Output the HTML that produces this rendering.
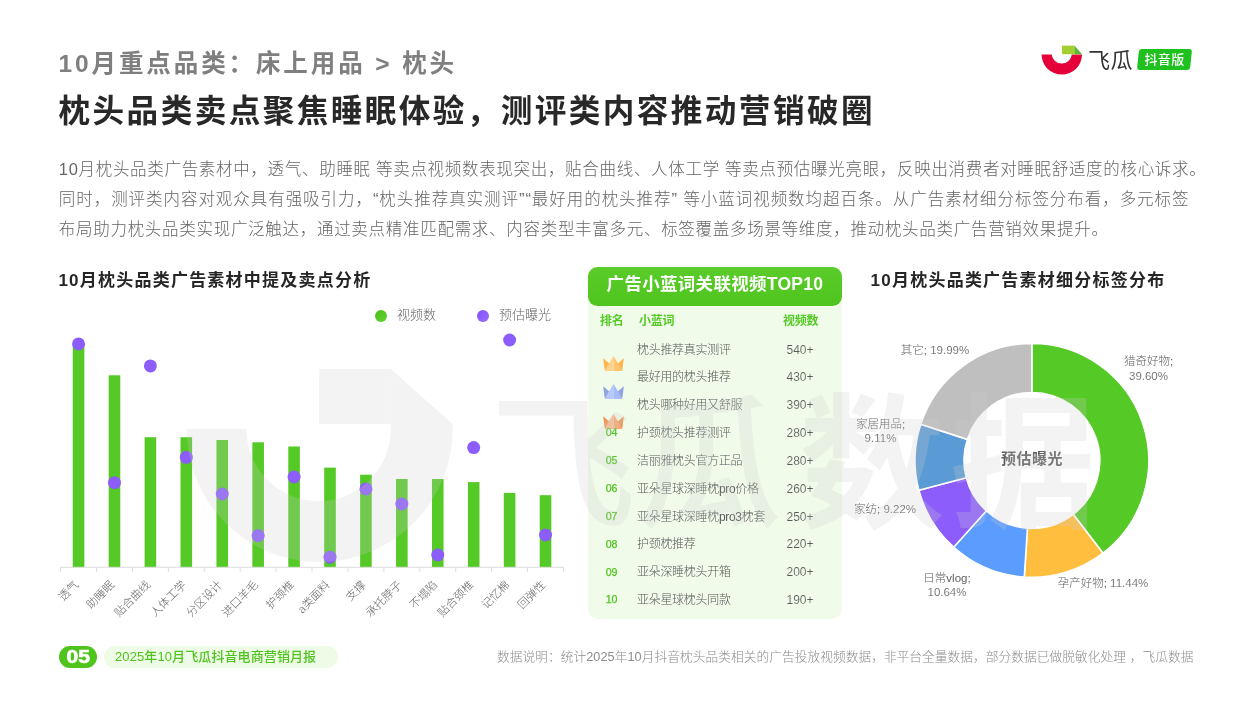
<!DOCTYPE html><html lang="zh-CN"><head><meta charset="utf-8"><title>10月重点品类：床上用品 &gt; 枕头</title><style>
*{margin:0;padding:0;box-sizing:border-box}
html,body{width:1250px;height:703px;overflow:hidden;background:#fff}
body{font-family:"Liberation Sans", "Noto Sans CJK SC", sans-serif;position:relative;color:#333}
.abs{position:absolute;white-space:nowrap}
#h1{left:58.5px;top:44.5px;font-size:24.5px;line-height:38px;font-weight:700;color:#7f7f7f;letter-spacing:2.9px}
#h2{left:58.6px;top:87.6px;font-size:31.6px;line-height:46px;font-weight:700;color:#282828;letter-spacing:2.42px}
#para{position:absolute;left:58.8px;top:154px;width:1160px;font-size:16.5px;line-height:30px;font-weight:300;color:#666;letter-spacing:1.35px}
#para div{white-space:nowrap;height:30px}
.ctitle{font-size:17px;line-height:24px;font-weight:700;color:#262626;letter-spacing:1.23px}
#t1{left:58.4px;top:269.2px}
#t3{left:870.6px;top:269.2px}
.leg{font-size:13px;line-height:18px;color:#666;font-weight:300}
.dot{position:absolute;border-radius:50%}
/* table */
#panel{position:absolute;left:588.3px;top:286px;width:253.7px;height:333px;background:#f1fbea;border-radius:0 0 10.5px 10.5px}
#phead{position:absolute;left:588px;top:267.2px;width:254px;height:38.8px;border-radius:9.5px;background:linear-gradient(180deg,#5bcc2b,#4fc41d);color:#fff;font-weight:700;font-size:17.5px;line-height:35px;text-align:center;letter-spacing:0.3px}
.th{font-size:12px;line-height:16px;font-weight:700;color:#55c925;letter-spacing:-0.2px}
.td{font-size:12px;line-height:16px;color:#595959;font-weight:300;letter-spacing:-0.3px}
.rk{font-size:10.6px;line-height:16px;color:#4fc41d;font-weight:500;width:30px;text-align:center;-webkit-text-stroke:0.25px #4fc41d}
.cnt{font-size:12px;line-height:16px;color:#595959;font-weight:300;width:50px;text-align:center;-webkit-text-stroke:0.12px #f1fbea}
/* footer */
#pg{left:58.5px;top:646px;width:38.5px;height:21.5px;border-radius:11px;background:#4fc41d}
#pgt{left:58.5px;top:646px;width:38.5px;height:21.5px;color:#fff;font-weight:700;font-size:17.5px;line-height:22px;text-align:center;transform:scaleX(1.2);-webkit-text-stroke:0.6px #fff}
#rep{left:103.5px;top:646px;width:234.5px;height:21.5px;border-radius:11px;background:#eefbe6;color:#4fc41d;font-weight:500;font-size:13px;line-height:21px;padding-left:11.5px;letter-spacing:0.1px}
#note{left:497px;top:648px;font-size:12.7px;line-height:18px;color:#8c8c8c;font-weight:300;letter-spacing:0.06px}
/* logo */
#lgtxt{left:1088px;top:46.6px;font-size:22px;line-height:28px;color:#333;font-weight:400;letter-spacing:0.4px}
#badge{left:1138px;top:49px;width:53px;height:21px;background:#1fc11f;border-radius:3px;transform:skewX(-6deg)}
#badgetxt{left:1138px;top:49px;width:53px;height:21px;color:#fff;font-size:13px;font-weight:500;line-height:21px;text-align:center;letter-spacing:0.4px}
#stage{position:absolute;left:0;top:0;width:1250px;height:703px;overflow:hidden;will-change:transform}
#wm{position:absolute;left:0;top:0;width:1250px;height:703px;pointer-events:none}
</style></head><body><div id="stage">
<div class="abs" id="h1">10月重点品类：床上用品 &gt; 枕头</div>
<div class="abs" id="h2">枕头品类卖点聚焦睡眠体验，测评类内容推动营销破圈</div>
<svg class="abs" style="left:1036px;top:40px" width="52" height="40" viewBox="1036 40 52 40">
<path d="M1041.6 54.4 A20.2 20.2 0 0 0 1082 54.4 L1071.8 54.4 A10.1 10.1 0 0 1 1051.7 54.4 Z" fill="#e60039"/>
<rect x="1062" y="45.6" width="12.4" height="8.6" fill="#a4cf30"/>
<path d="M1074.4 45.6 L1082 54.2 L1074.4 54.2 Z" fill="#5cb531"/>
</svg>
<div class="abs" id="lgtxt">飞瓜</div>
<div class="abs" id="badge"></div><div class="abs" id="badgetxt">抖音版</div>
<div id="para"><div style="letter-spacing:0.69px">10月枕头品类广告素材中，透气、助睡眠 等卖点视频数表现突出，贴合曲线、人体工学 等卖点预估曝光亮眼，反映出消费者对睡眠舒适度的核心诉求。</div><div style="letter-spacing:0.95px">同时，测评类内容对观众具有强吸引力，“枕头推荐真实测评”“最好用的枕头推荐” 等小蓝词视频数均超百条。从广告素材细分标签分布看，多元标签</div><div style="letter-spacing:0.71px">布局助力枕头品类实现广泛触达，通过卖点精准匹配需求、内容类型丰富多元、标签覆盖多场景等维度，推动枕头品类广告营销效果提升。</div></div>
<div class="abs ctitle" id="t1">10月枕头品类广告素材中提及卖点分析</div>
<div class="dot" style="left:374.5px;top:309.5px;width:12px;height:12px;background:linear-gradient(135deg,#4bc118,#62d032)"></div>
<div class="abs leg" style="left:397px;top:306px">视频数</div>
<div class="dot" style="left:477px;top:309.5px;width:12px;height:12px;background:linear-gradient(135deg,#8150f7,#9a6dff)"></div>
<div class="abs leg" style="left:499px;top:306px">预估曝光</div>
<svg class="abs" style="left:0;top:330px" width="600" height="310" viewBox="0 330 600 310"><rect x="72.76" y="344" width="11.6" height="223.30" fill="#55c925"/><rect x="108.68" y="375.3" width="11.6" height="192.00" fill="#55c925"/><rect x="144.60" y="437.2" width="11.6" height="130.10" fill="#55c925"/><rect x="180.52" y="437.2" width="11.6" height="130.10" fill="#55c925"/><rect x="216.44" y="440" width="11.6" height="127.30" fill="#55c925"/><rect x="252.36" y="442.3" width="11.6" height="125.00" fill="#55c925"/><rect x="288.28" y="446.5" width="11.6" height="120.80" fill="#55c925"/><rect x="324.20" y="467.6" width="11.6" height="99.70" fill="#55c925"/><rect x="360.12" y="474.7" width="11.6" height="92.60" fill="#55c925"/><rect x="396.04" y="479" width="11.6" height="88.30" fill="#55c925"/><rect x="431.96" y="479" width="11.6" height="88.30" fill="#55c925"/><rect x="467.88" y="482.1" width="11.6" height="85.20" fill="#55c925"/><rect x="503.80" y="492.9" width="11.6" height="74.40" fill="#55c925"/><rect x="539.72" y="495.2" width="11.6" height="72.10" fill="#55c925"/><path d="M60.6 567.3 H563.48" stroke="#dcdcdc" stroke-width="1" fill="none"/><path d="M60.60 567.3 v4.5" stroke="#dcdcdc" stroke-width="1" fill="none"/><path d="M96.52 567.3 v4.5" stroke="#dcdcdc" stroke-width="1" fill="none"/><path d="M132.44 567.3 v4.5" stroke="#dcdcdc" stroke-width="1" fill="none"/><path d="M168.36 567.3 v4.5" stroke="#dcdcdc" stroke-width="1" fill="none"/><path d="M204.28 567.3 v4.5" stroke="#dcdcdc" stroke-width="1" fill="none"/><path d="M240.20 567.3 v4.5" stroke="#dcdcdc" stroke-width="1" fill="none"/><path d="M276.12 567.3 v4.5" stroke="#dcdcdc" stroke-width="1" fill="none"/><path d="M312.04 567.3 v4.5" stroke="#dcdcdc" stroke-width="1" fill="none"/><path d="M347.96 567.3 v4.5" stroke="#dcdcdc" stroke-width="1" fill="none"/><path d="M383.88 567.3 v4.5" stroke="#dcdcdc" stroke-width="1" fill="none"/><path d="M419.80 567.3 v4.5" stroke="#dcdcdc" stroke-width="1" fill="none"/><path d="M455.72 567.3 v4.5" stroke="#dcdcdc" stroke-width="1" fill="none"/><path d="M491.64 567.3 v4.5" stroke="#dcdcdc" stroke-width="1" fill="none"/><path d="M527.56 567.3 v4.5" stroke="#dcdcdc" stroke-width="1" fill="none"/><path d="M563.48 567.3 v4.5" stroke="#dcdcdc" stroke-width="1" fill="none"/><circle cx="78.56" cy="343.9" r="6.5" fill="#8c5dfb"/><circle cx="114.48" cy="482.7" r="6.5" fill="#8c5dfb"/><circle cx="150.40" cy="365.9" r="6.5" fill="#8c5dfb"/><circle cx="186.32" cy="457.3" r="6.5" fill="#8c5dfb"/><circle cx="222.24" cy="494" r="6.5" fill="#8c5dfb"/><circle cx="258.16" cy="535.6" r="6.5" fill="#8c5dfb"/><circle cx="294.08" cy="477" r="6.5" fill="#8c5dfb"/><circle cx="330.00" cy="557.2" r="6.5" fill="#8c5dfb"/><circle cx="365.92" cy="488.9" r="6.5" fill="#8c5dfb"/><circle cx="401.84" cy="504" r="6.5" fill="#8c5dfb"/><circle cx="437.76" cy="555" r="6.5" fill="#8c5dfb"/><circle cx="473.68" cy="447.6" r="6.5" fill="#8c5dfb"/><circle cx="509.60" cy="340" r="6.5" fill="#8c5dfb"/><circle cx="545.52" cy="535" r="6.5" fill="#8c5dfb"/><text transform="translate(77.06 583.5) rotate(-45)" text-anchor="end" dominant-baseline="middle" font-size="11.3" font-weight="300" fill="#666">透气</text><text transform="translate(112.98 583.5) rotate(-45)" text-anchor="end" dominant-baseline="middle" font-size="11.3" font-weight="300" fill="#666">助睡眠</text><text transform="translate(148.90 583.5) rotate(-45)" text-anchor="end" dominant-baseline="middle" font-size="11.3" font-weight="300" fill="#666">贴合曲线</text><text transform="translate(184.82 583.5) rotate(-45)" text-anchor="end" dominant-baseline="middle" font-size="11.3" font-weight="300" fill="#666">人体工学</text><text transform="translate(220.74 583.5) rotate(-45)" text-anchor="end" dominant-baseline="middle" font-size="11.3" font-weight="300" fill="#666">分区设计</text><text transform="translate(256.66 583.5) rotate(-45)" text-anchor="end" dominant-baseline="middle" font-size="11.3" font-weight="300" fill="#666">进口羊毛</text><text transform="translate(292.58 583.5) rotate(-45)" text-anchor="end" dominant-baseline="middle" font-size="11.3" font-weight="300" fill="#666">护颈椎</text><text transform="translate(328.50 583.5) rotate(-45)" text-anchor="end" dominant-baseline="middle" font-size="11.3" font-weight="300" fill="#666"><tspan stroke="#fff" stroke-width="0.25">a</tspan>类面料</text><text transform="translate(364.42 583.5) rotate(-45)" text-anchor="end" dominant-baseline="middle" font-size="11.3" font-weight="300" fill="#666">支撑</text><text transform="translate(400.34 583.5) rotate(-45)" text-anchor="end" dominant-baseline="middle" font-size="11.3" font-weight="300" fill="#666">承托脖子</text><text transform="translate(436.26 583.5) rotate(-45)" text-anchor="end" dominant-baseline="middle" font-size="11.3" font-weight="300" fill="#666">不塌陷</text><text transform="translate(472.18 583.5) rotate(-45)" text-anchor="end" dominant-baseline="middle" font-size="11.3" font-weight="300" fill="#666">贴合颈椎</text><text transform="translate(508.10 583.5) rotate(-45)" text-anchor="end" dominant-baseline="middle" font-size="11.3" font-weight="300" fill="#666">记忆棉</text><text transform="translate(544.02 583.5) rotate(-45)" text-anchor="end" dominant-baseline="middle" font-size="11.3" font-weight="300" fill="#666">回弹性</text></svg>
<div id="panel"></div><div id="phead">广告小蓝词关联视频TOP10</div>
<div class="abs th" style="left:600px;top:313px">排名</div>
<div class="abs th" style="left:639px;top:313px">小蓝词</div>
<div class="abs th" style="left:783px;top:313px">视频数</div>
<svg class="abs" style="left:602.9px;top:355.8px" width="21" height="15" viewBox="0 0 21 15">
<path d="M0.2 2.7 Q0 2.3 0.5 2.6 L6.2 7.5 L3 15 Q1.9 15 1.7 14 Z" fill="#ffb54d"/>
<path d="M20.8 2.7 Q21 2.3 20.5 2.6 L14.8 7.5 L18 15 Q19.1 15 19.3 14 Z" fill="#ffb54d"/>
<path d="M10.5 0 L10.5 15 L2.6 15 Q1.7 15 2 14.2 L10.1 0.4 Q10.3 0 10.5 0 Z" fill="#ffd28c"/>
<path d="M10.5 0 L10.5 15 L18.4 15 Q19.3 15 19 14.2 L10.9 0.4 Q10.7 0 10.5 0 Z" fill="#ffc56f"/>
</svg>
<svg class="abs" style="left:602.9px;top:384.4px" width="21" height="15" viewBox="0 0 21 15">
<path d="M0.2 2.7 Q0 2.3 0.5 2.6 L6.2 7.5 L3 15 Q1.9 15 1.7 14 Z" fill="#8ea4e2"/>
<path d="M20.8 2.7 Q21 2.3 20.5 2.6 L14.8 7.5 L18 15 Q19.1 15 19.3 14 Z" fill="#8ea4e2"/>
<path d="M10.5 0 L10.5 15 L2.6 15 Q1.7 15 2 14.2 L10.1 0.4 Q10.3 0 10.5 0 Z" fill="#b7c8fb"/>
<path d="M10.5 0 L10.5 15 L18.4 15 Q19.3 15 19 14.2 L10.9 0.4 Q10.7 0 10.5 0 Z" fill="#a7bbf6"/>
</svg>
<svg class="abs" style="left:602.9px;top:413.5px" width="21" height="15" viewBox="0 0 21 15">
<path d="M0.2 2.7 Q0 2.3 0.5 2.6 L6.2 7.5 L3 15 Q1.9 15 1.7 14 Z" fill="#ef9650"/>
<path d="M20.8 2.7 Q21 2.3 20.5 2.6 L14.8 7.5 L18 15 Q19.1 15 19.3 14 Z" fill="#ef9650"/>
<path d="M10.5 0 L10.5 15 L2.6 15 Q1.7 15 2 14.2 L10.1 0.4 Q10.3 0 10.5 0 Z" fill="#fbbb90"/>
<path d="M10.5 0 L10.5 15 L18.4 15 Q19.3 15 19 14.2 L10.9 0.4 Q10.7 0 10.5 0 Z" fill="#f8a874"/>
</svg>
<div class="abs td" style="left:637px;top:341.6px">枕头推荐真实测评</div>
<div class="abs cnt" style="left:775px;top:341.6px">540+</div>
<div class="abs td" style="left:637px;top:369.4px">最好用的枕头推荐</div>
<div class="abs cnt" style="left:775px;top:369.4px">430+</div>
<div class="abs td" style="left:637px;top:397.3px">枕头哪种好用又舒服</div>
<div class="abs cnt" style="left:775px;top:397.3px">390+</div>
<div class="abs rk" style="left:596.6px;top:424.4px">04</div>
<div class="abs td" style="left:637px;top:425.1px">护颈枕头推荐测评</div>
<div class="abs cnt" style="left:775px;top:425.1px">280+</div>
<div class="abs rk" style="left:596.6px;top:452.2px">05</div>
<div class="abs td" style="left:637px;top:452.9px">洁丽雅枕头官方正品</div>
<div class="abs cnt" style="left:775px;top:452.9px">280+</div>
<div class="abs rk" style="left:596.6px;top:480.1px">06</div>
<div class="abs td" style="left:637px;top:480.8px">亚朵星球深睡枕pro价格</div>
<div class="abs cnt" style="left:775px;top:480.8px">260+</div>
<div class="abs rk" style="left:596.6px;top:507.9px">07</div>
<div class="abs td" style="left:637px;top:508.6px">亚朵星球深睡枕pro3枕套</div>
<div class="abs cnt" style="left:775px;top:508.6px">250+</div>
<div class="abs rk" style="left:596.6px;top:535.7px">08</div>
<div class="abs td" style="left:637px;top:536.4px">护颈枕推荐</div>
<div class="abs cnt" style="left:775px;top:536.4px">220+</div>
<div class="abs rk" style="left:596.6px;top:563.5px">09</div>
<div class="abs td" style="left:637px;top:564.2px">亚朵深睡枕头开箱</div>
<div class="abs cnt" style="left:775px;top:564.2px">200+</div>
<div class="abs rk" style="left:596.6px;top:591.4px">10</div>
<div class="abs td" style="left:637px;top:592.1px">亚朵星球枕头同款</div>
<div class="abs cnt" style="left:775px;top:592.1px">190+</div>
<div class="abs ctitle" id="t3">10月枕头品类广告素材细分标签分布</div>
<svg class="abs" style="left:850px;top:330px" width="400" height="280" viewBox="850 330 400 280"><path d="M1031.90 343.50 A116.9 116.9 0 0 1 1102.97 553.22 L1073.18 514.31 A67.9 67.9 0 0 0 1031.90 392.50 Z" fill="#55c925" stroke="#fff" stroke-width="1.6" stroke-linejoin="round"/><path d="M1102.97 553.22 A116.9 116.9 0 0 1 1024.27 577.05 L1027.47 528.16 A67.9 67.9 0 0 0 1073.18 514.31 Z" fill="#ffbe3d" stroke="#fff" stroke-width="1.6" stroke-linejoin="round"/><path d="M1024.27 577.05 A116.9 116.9 0 0 1 953.61 547.21 L986.42 510.82 A67.9 67.9 0 0 0 1027.47 528.16 Z" fill="#5b9cff" stroke="#fff" stroke-width="1.6" stroke-linejoin="round"/><path d="M953.61 547.21 A116.9 116.9 0 0 1 918.86 490.18 L966.24 477.70 A67.9 67.9 0 0 0 986.42 510.82 Z" fill="#8c5dfb" stroke="#fff" stroke-width="1.6" stroke-linejoin="round"/><path d="M918.86 490.18 A116.9 116.9 0 0 1 920.74 424.21 L967.34 439.38 A67.9 67.9 0 0 0 966.24 477.70 Z" fill="#5b9bd5" stroke="#fff" stroke-width="1.6" stroke-linejoin="round"/><path d="M920.74 424.21 A116.9 116.9 0 0 1 1031.90 343.50 L1031.90 392.50 A67.9 67.9 0 0 0 967.34 439.38 Z" fill="#bfbfbf" stroke="#fff" stroke-width="1.6" stroke-linejoin="round"/><text x="935" y="354" text-anchor="middle" font-size="11.5" font-weight="300" fill="#606060">其它; <tspan stroke="#fff" stroke-width="0.12">19.99%</tspan></text><text x="1148.5" y="364.5" text-anchor="middle" font-size="11.5" font-weight="300" fill="#606060">猎奇好物;</text><text x="1148.5" y="379.5" text-anchor="middle" font-size="11.5" font-weight="300" fill="#606060"><tspan stroke="#fff" stroke-width="0.12">39.60%</tspan></text><text x="880.5" y="427.5" text-anchor="middle" font-size="11.5" font-weight="300" fill="#606060">家居用品;</text><text x="880.5" y="442" text-anchor="middle" font-size="11.5" font-weight="300" fill="#606060"><tspan stroke="#fff" stroke-width="0.12">9.11%</tspan></text><text x="885" y="513" text-anchor="middle" font-size="11.5" font-weight="300" fill="#606060">家纺; <tspan stroke="#fff" stroke-width="0.12">9.22%</tspan></text><text x="947" y="582" text-anchor="middle" font-size="11.5" font-weight="300" fill="#606060">日常vlog;</text><text x="947" y="595.6" text-anchor="middle" font-size="11.5" font-weight="300" fill="#606060"><tspan stroke="#fff" stroke-width="0.12">10.64%</tspan></text><text x="1103" y="587" text-anchor="middle" font-size="11.5" font-weight="300" fill="#606060">孕产好物; <tspan stroke="#fff" stroke-width="0.12">11.44%</tspan></text><text x="1031.9" y="464.2" text-anchor="middle" font-size="15" font-weight="700" fill="#5e5e5e" letter-spacing="0.5">预估曝光</text></svg>
<div class="abs" id="pg"></div><div class="abs" id="pgt">05</div>
<div class="abs" id="rep">2025年10月飞瓜抖音电商营销月报</div>
<div class="abs" id="note">数据说明：统计2025年10月抖音枕头品类相关的广告投放视频数据，非平台全量数据，部分数据已做脱敏化处理 ，飞瓜数据</div>
<svg id="wm" viewBox="0 0 1250 703">
<g fill="#cdcdcd" fill-opacity="0.24">
<path d="M186.6 429 A133 133 0 0 0 452.6 429 L452.6 424 L390.8 424 L390.8 429 A72.2 72.2 0 0 1 246.4 429 Z"/>
<rect x="319" y="369" width="71.8" height="55"/>
<path d="M390.8 369 L452.6 424 L390.8 424 Z"/>
<text x="490" y="516" font-size="146" font-weight="500">飞瓜</text>
<text x="799" y="516" font-size="146" font-weight="700" letter-spacing="5">数据</text>
</g></svg>
</div></body></html>
